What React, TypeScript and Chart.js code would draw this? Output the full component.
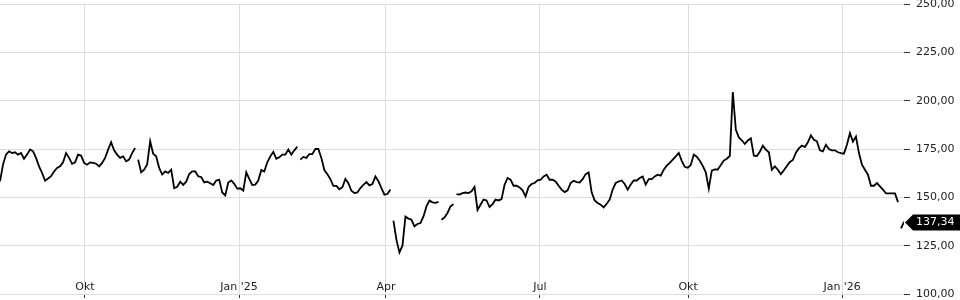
import React, { useEffect, useRef } from 'react';
import { Chart, registerables } from 'chart.js';

Chart.register(...registerables);

// Price series, one reading per ~1.3 trading sessions (index based x axis)
const closes: number[] = [
  158.3, 166.9, 172.1, 173.8, 172.9, 173.3, 172.1, 172.9, 169.9, 172.1,
  174.7, 173.8, 170.4, 166.0, 162.6, 158.6, 159.7, 160.9, 163.4, 165.2,
  166.0, 168.1, 172.9, 170.4, 167.3, 168.1, 172.1, 171.6, 167.8, 166.9,
  168.1, 167.8, 167.4, 166.0, 167.8, 170.4, 174.7, 178.5, 174.3, 172.1,
  170.4, 171.2, 168.6, 169.5, 172.9, 175.5, 169.5, 162.9, 164.3, 167.0,
  179.0, 172.5, 171.2, 165.2, 161.8, 163.4, 162.6, 164.3, 154.7, 155.5,
  158.1, 156.4, 158.1, 162.1, 163.4, 163.4, 160.9, 160.5, 157.7, 158.1,
  157.3, 156.4, 158.7, 159.1, 152.5, 151.0, 157.7, 158.7, 157.0, 154.5,
  154.7, 153.5, 162.9, 159.5, 156.4, 156.6, 158.7, 164.1, 163.4, 168.1,
  171.2, 173.5, 169.9, 170.7, 172.1, 172.1, 174.7, 172.1, 174.3, 176.2,
  169.5, 170.9, 170.4, 172.4, 172.4, 175.0, 175.0, 170.4, 164.1, 162.0,
  159.4, 155.9, 155.9, 154.2, 155.2, 159.5, 157.3, 153.4, 152.2, 152.5,
  154.8, 156.5, 157.9, 156.2, 156.9, 160.8, 158.3, 154.8, 151.4, 151.7,
  154.0, 138.0, 128.0, 121.5, 125.0, 140.0, 139.0, 138.4, 135.0, 136.2,
  136.7, 140.1, 145.3, 148.3, 147.4, 147.1, 147.6, 138.4, 139.6, 141.9,
  145.3, 146.5, 151.7, 151.4, 152.2, 152.5, 152.2, 153.1, 155.4, 143.5,
  146.2, 148.8, 148.4, 145.0, 146.5, 148.8, 148.4, 149.1, 156.5, 160.0,
  159.1, 156.0, 156.0, 155.1, 153.6, 150.5, 155.4, 156.9, 157.4, 158.8,
  159.1, 160.8, 161.7, 159.1, 159.1, 158.2, 156.0, 154.0, 152.7, 153.6,
  157.4, 158.6, 157.9, 157.7, 159.4, 162.0, 162.9, 152.6, 148.4, 147.1,
  146.2, 144.8, 146.7, 148.8, 154.0, 157.4, 158.2, 158.7, 156.9, 154.0,
  156.6, 158.7, 158.7, 160.0, 160.8, 156.6, 159.4, 159.4, 160.8, 161.7,
  161.2, 164.3, 166.4, 167.8, 169.5, 171.2, 173.0, 168.9, 165.8, 165.3,
  166.7, 172.1, 171.0, 168.9, 166.3, 162.9, 154.5, 163.8, 164.4, 164.4,
  166.7, 169.0, 170.0, 171.4, 204.5, 185.0, 181.0, 179.5, 177.6, 179.4,
  180.5, 171.5, 171.4, 173.6, 176.7, 174.7, 173.3, 164.3, 166.0, 164.3,
  162.0, 164.0, 166.2, 168.3, 169.3, 173.1, 175.3, 176.8, 176.0, 178.5,
  182.1, 179.8, 179.0, 174.3, 173.8, 177.2, 175.0, 174.3, 174.3, 173.3,
  172.9, 172.6, 177.2, 183.2, 178.8, 181.4, 172.9, 166.9, 164.3, 161.7,
  156.0, 156.0, 157.4, 155.7, 154.0, 152.0, 152.0, 152.0, 152.0, 147.5,
  134.0, 137.34,
];

// indices after which the line is broken (session gaps)
const gapAfter: number[] = [45, 99, 130, 146, 151, 299];

// month boundaries on the session index axis
const monthTickPos: number[] = [28.3, 79.6, 128.5, 179.8, 229.1, 280.4];
const monthTickLabels: string[] = ['Okt', "Jan '25", 'Apr', 'Jul', 'Okt', "Jan '26"];

const yMin = 100;
const yMax = 250;
const yStep = 25;

const fmt = (v: number) => v.toFixed(2).replace('.', ',');

const FONT = '"DejaVu Sans", sans-serif';

const lastValuePlugin = {
  id: 'lastValueTag',
  afterDraw(chart: any) {
    const { ctx, chartArea, scales } = chart;
    const v = closes[closes.length - 1];
    const y = Math.round(scales.y.getPixelForValue(v)) + 0.5;
    const tip = chartArea.right + 1;
    const left = chartArea.right + 9;
    const right = chart.width;
    const h = 8;
    ctx.save();
    ctx.fillStyle = '#000';
    ctx.beginPath();
    ctx.moveTo(tip, y);
    ctx.lineTo(left, y - h);
    ctx.lineTo(right, y - h);
    ctx.lineTo(right, y + h);
    ctx.lineTo(left, y + h);
    ctx.closePath();
    ctx.fill();
    ctx.fillStyle = '#fff';
    ctx.font = '11px ' + FONT;
    ctx.textBaseline = 'middle';
    ctx.textAlign = 'left';
    ctx.fillText(fmt(v), chartArea.right + 12, y);
    ctx.restore();
  },
};

export default function App() {
  const ref = useRef<HTMLCanvasElement | null>(null);

  useEffect(() => {
    if (!ref.current) return;
    Chart.defaults.font.family = FONT;
    Chart.defaults.font.size = 11;
    const chart = new Chart(ref.current, {
      type: 'line',
      data: {
        datasets: [
          {
            data: closes.map((v, i) => ({ x: i, y: v })),
            borderColor: '#000',
            borderWidth: 1.8,
            borderJoinStyle: 'miter',
            pointRadius: 0,
            tension: 0,
            fill: false,
            segment: {
              borderColor: (c: any) =>
                gapAfter.includes(c.p0DataIndex) ? 'rgba(0,0,0,0)' : undefined,
            },
          } as any,
        ],
      },
      options: {
        animation: false,
        responsive: false,
        layout: { padding: { top: 4, bottom: 2, left: 0, right: 0 } },
        plugins: { legend: { display: false }, tooltip: { enabled: false } },
        scales: {
          x: {
            type: 'linear',
            min: 0,
            max: closes.length - 1,
            afterBuildTicks: (s: any) => {
              s.ticks = monthTickPos.map((v) => ({ value: v }));
            },
            afterFit: (s: any) => {
              s.paddingLeft = 0;
              s.paddingRight = 0;
            },
            grid: { color: '#dddddd', tickColor: '#333', tickLength: 4 },
            border: { display: false },
            ticks: {
              mirror: true,
              padding: 0,
              autoSkip: false,
              maxRotation: 0,
              color: '#222',
              font: { size: 11 },
              callback: (_v: any, i: number) => monthTickLabels[i],
            },
          },
          y: {
            position: 'right',
            min: yMin,
            max: yMax,
            afterFit: (s: any) => {
              s.width = 56;
              s.paddingTop = 0;
              s.paddingBottom = 0;
            },
            grid: { color: '#dddddd', tickColor: '#333', tickLength: 6 },
            border: { display: false },
            ticks: {
              stepSize: yStep,
              padding: 6,
              color: '#222',
              font: { size: 11 },
              callback: (v: any) => fmt(Number(v)),
            },
          },
        },
      } as any,
      plugins: [lastValuePlugin],
    });
    return () => chart.destroy();
  }, []);

  return (
    <canvas
      ref={ref}
      width={960}
      height={300}
      style={{ position: 'fixed', left: 0, top: 0, width: 960, height: 300, display: 'block' }}
    />
  );
}
